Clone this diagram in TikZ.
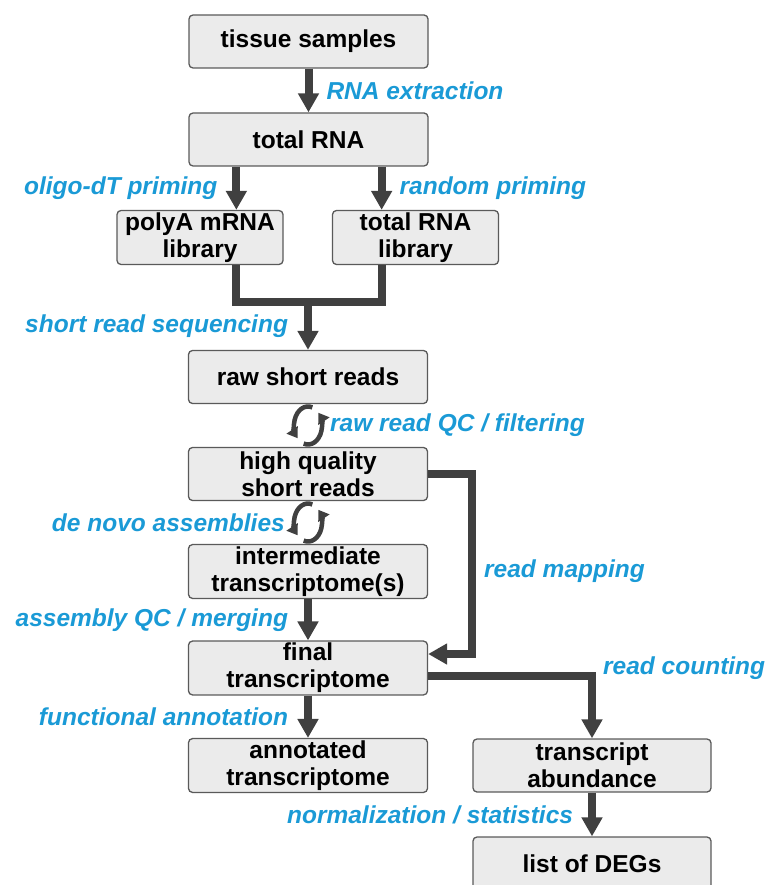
\documentclass[tikz,border=0pt]{standalone}
\usepackage{fontspec}
\setmainfont{Liberation Sans}
\usepackage{xcolor}
\usetikzlibrary{arrows.meta, positioning, calc}

\definecolor{boxfill}{HTML}{EBEBEB}
\definecolor{boxline}{HTML}{5A5A5A}
\definecolor{flowgray}{HTML}{404040}
\definecolor{labblue}{HTML}{1A9AD6}

\begin{document}
\begin{tikzpicture}[x=1pt, y=-1pt,
  box/.style={draw=boxline, fill=boxfill, line width=1.3pt, rounded corners=4pt,
    minimum width=239pt, minimum height=53pt, align=center, inner sep=2pt,
    font=\fontsize{24.5}{27}\selectfont\bfseries},
  libbox/.style={box, minimum width=166pt, minimum height=54pt},
  flow/.style={draw=flowgray, line width=8pt, -{Triangle[width=20pt,length=19pt]}},
  link/.style={draw=flowgray, line width=8pt},
  lab/.style={text=labblue, inner sep=0pt,
    font=\fontsize{24.5}{27}\selectfont\bfseries\itshape},
  cyclearrow/.style={draw=flowgray, line width=4.5pt, -{Triangle[width=13pt,length=10pt]}}
]
  \clip (0,0) rectangle (771,885);

  % boxes
  \node[box] (tissue)   at (308.5, 41.5) {tissue samples};
  \node[box] (totalrna) at (308.5,139.5) {total RNA};
  \node[libbox] (polya)    at (200,  237.5) {polyA mRNA\\library};
  \node[libbox] (totallib) at (415.5,237.5) {total RNA\\library};
  \node[box] (raw)   at (308,377)   {raw short reads};
  \node[box] (hq)    at (308,474)   {high quality\\short reads};
  \node[box] (inter) at (308,571.5) {intermediate\\transcriptome(s)};
  \node[box] (final) at (308,668)   {final\\transcriptome};
  \node[box] (annot) at (308,765.5) {annotated\\transcriptome};
  \node[box, minimum width=238pt] (abund) at (592,765.5) {transcript\\abundance};
  \node[box, minimum width=238pt] (degs)  at (592,863.5) {list of DEGs};

  % library preparation
  \draw[flow] (tissue) -- node[lab, right=14pt] (extlab) {RNA extraction} (totalrna);
  \coordinate (oligo) at ([xshift=48pt]totalrna.south west);
  \coordinate (rand)  at ([xshift=-47pt]totalrna.south east);
  \draw[flow] (oligo) -- node[lab, left=15pt] (oligolab) {oligo-dT priming} (oligo |- polya.north);
  \draw[flow] (rand) -- node[lab, right=14pt] (randlab) {random priming} (rand |- totallib.north);

  \coordinate (merge) at (308,302);
  \draw[link] (polya.south -| oligo) |- (merge) -| (totallib.south -| rand);
  \draw[flow] (merge) -- node[lab, left=16pt] (seqlab) {short read sequencing} (raw);

  % QC loops
  \coordinate (qc) at ($(raw.south)!0.5!(hq.north)$);
  \draw[cyclearrow] ($(qc)+(72:14pt and 19pt)$) arc[start angle=72, end angle=222, x radius=14pt, y radius=19pt];
  \draw[cyclearrow] ($(qc)+(-108:14pt and 19pt)$) arc[start angle=-108, end angle=42, x radius=14pt, y radius=19pt];
  \node[lab, right=22pt] (qclab) at (qc) {raw read QC / filtering};

  \coordinate (asm) at ($(hq.south)!0.5!(inter.north)$);
  \draw[cyclearrow] ($(asm)+(72:14pt and 19pt)$) arc[start angle=72, end angle=222, x radius=14pt, y radius=19pt];
  \draw[cyclearrow] ($(asm)+(-108:14pt and 19pt)$) arc[start angle=-108, end angle=42, x radius=14pt, y radius=19pt];
  \node[lab, left=23pt] (asmlab) at (asm) {de novo assemblies};

  \draw[flow] (inter) -- node[lab, left=16pt] (mergelab) {assembly QC / merging} (final);

  % mapping and counting
  \coordinate (mapin) at ([yshift=14pt]final.east);
  \coordinate (mapx)  at (472,474);
  \draw[flow] (hq.east) -| (mapx |- mapin) -- (mapin);
  \node[lab, anchor=west] (maplab) at (484,571) {read mapping};

  \coordinate (cntout) at ([yshift=-8pt]final.east);
  \draw[flow] (cntout) -| (abund);
  \node[lab, anchor=west] (cntlab) at (603,668) {read counting};

  \draw[flow] (final) -- node[lab, left=16pt] (annlab) {functional annotation} (annot);
  \draw[flow] (abund) -- node[lab, left=15pt] (normlab) {normalization / statistics} (degs);
\end{tikzpicture}
\end{document}
